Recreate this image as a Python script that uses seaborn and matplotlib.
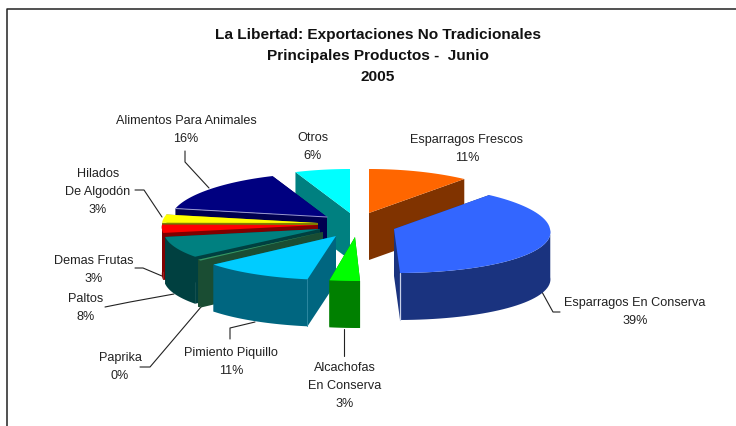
import matplotlib
matplotlib.use("Agg")
import matplotlib.pyplot as plt
import numpy as np
import seaborn as sns

products = ["Esparragos Frescos", "Esparragos En Conserva", "Alcachofas\nEn Conserva",
            "Pimiento Piquillo", "Paprika", "Paltos", "Demas Frutas",
            "Hilados\nDe Algodón", "Alimentos Para Animales", "Otros"]
shares = [11, 39, 3, 11, 0.4, 8, 3, 3, 16, 6]

top_colors = ["#FF6600", "#3366FF", "#00FF00", "#00CCFF", "#339966",
              "#008080", "#FF0000", "#FFFF00", "#000080", "#00FFFF"]
side_colors = ["#803300", "#1A337F", "#008000", "#006680", "#1A4D33",
               "#004040", "#800000", "#808000", "#000050", "#008080"]

# where each exploded slice has its tip, in pixels
tip_x = [369, 394, 355, 336, 323, 320, 318, 318, 327, 350]
tip_y = [214, 230, 238, 237, 233, 230, 226, 224, 218, 214]
skew = [0, 4, 3, 0, 0, 0, 0, 0, 0, 0]
draw_order = [9, 0, 8, 7, 6, 5, 4, 3, 1, 2]

label_x = [467, 635, 345, 231, 120, 86, 94, 98, 186, 313]
label_y = [149, 312, 386, 362, 367, 308, 270, 192, 130, 147]

leaders = [
    [(542, 293), (553, 313), (560, 313)],
    [(344, 330), (344, 357)],
    [(230, 340), (230, 329), (255, 323)],
    [(140, 368), (150, 368), (201, 308)],
    [(105, 308), (130, 303), (174, 295)],
    [(135, 269), (143, 269), (162, 277)],
    [(135, 191), (144, 191), (162, 218)],
    [(185, 152), (185, 163), (209, 189)],
]

RX, RY, DEPTH = 156, 44, 47

sns.set_theme(style="white")
plt.rcParams["font.family"] = ["Liberation Sans", "DejaVu Sans"]

fig = plt.figure(figsize=(7.36, 4.27), dpi=100)
ax = fig.add_axes([0, 0, 1, 1])
ax.set_xlim(0, 736)
ax.set_ylim(427, 0)
ax.axis("off")


def rim(i, angles):
    # back of the pie a little narrower than the front
    y = -RY * np.cos(angles)
    x = RX * (1 - 0.05 * np.cos(angles)) * np.sin(angles) + skew[i] * np.maximum(y, 0) / RY
    return tip_x[i] + x, tip_y[i] + y


ax.plot([7, 7, 740], [430, 9.5, 9.5], color="#222222", lw=1.1, zorder=1)
for pts in leaders:
    xs, ys = zip(*pts)
    ax.plot(xs, ys, color="#222222", lw=0.8, zorder=1)

edges = np.radians(np.concatenate([[0], np.cumsum(shares)]) * 360 / sum(shares))

for z, i in enumerate(draw_order):
    cx, cy = tip_x[i], tip_y[i]
    t = np.linspace(edges[i], edges[i + 1], 60)
    zo = 2 + z
    # the two cut faces
    for e in (edges[i], edges[i + 1]):
        rx, ry = rim(i, e)
        ax.fill([cx, rx, rx, cx], [cy, ry, ry + DEPTH, cy + DEPTH],
                color=side_colors[i], lw=0, zorder=zo)
    # outer wall, only the part facing the viewer
    front = t[(t >= np.pi / 2) & (t <= 3 * np.pi / 2)]
    if len(front) > 1:
        wx, wy = rim(i, front)
        ax.fill(np.r_[wx, wx[::-1]], np.r_[wy, wy[::-1] + DEPTH],
                color=side_colors[i], lw=0, zorder=zo)
    # top
    px, py = rim(i, t)
    ax.fill(np.r_[cx, px], np.r_[cy, py], color=top_colors[i], lw=0, zorder=zo)
    # light seams on the corners
    if i == 1:
        sx, sy = rim(i, edges[i + 1])
        ax.plot([sx, sx], [sy, sy + DEPTH], color="#C8D0E8", lw=0.9, zorder=zo)
    if i == 3:
        sx, sy = rim(i, edges[i])
        ax.plot([sx, sx], [sy, sy + DEPTH], color="#2A86A0", lw=0.7, zorder=zo)
    if i == 8:
        sx, sy = rim(i, edges[i])
        ax.plot([cx, sx], [cy, sy], color="#9A9AD0", lw=0.7, zorder=zo)

for name, share, x, y in zip(products, shares, label_x, label_y):
    ax.text(x, y, f"{name}\n{share:.0f}%", ha="center", va="center", fontsize=9.1,
            color="#222222", linespacing=1.68, zorder=20)

ax.text(378, 56, "La Libertad: Exportaciones No Tradicionales\nPrincipales Productos -  Junio\n2005",
        ha="center", va="center", fontsize=11.1, fontweight="bold", color="#111111",
        linespacing=1.67, zorder=20)

fig.savefig("out.png", dpi=100)
